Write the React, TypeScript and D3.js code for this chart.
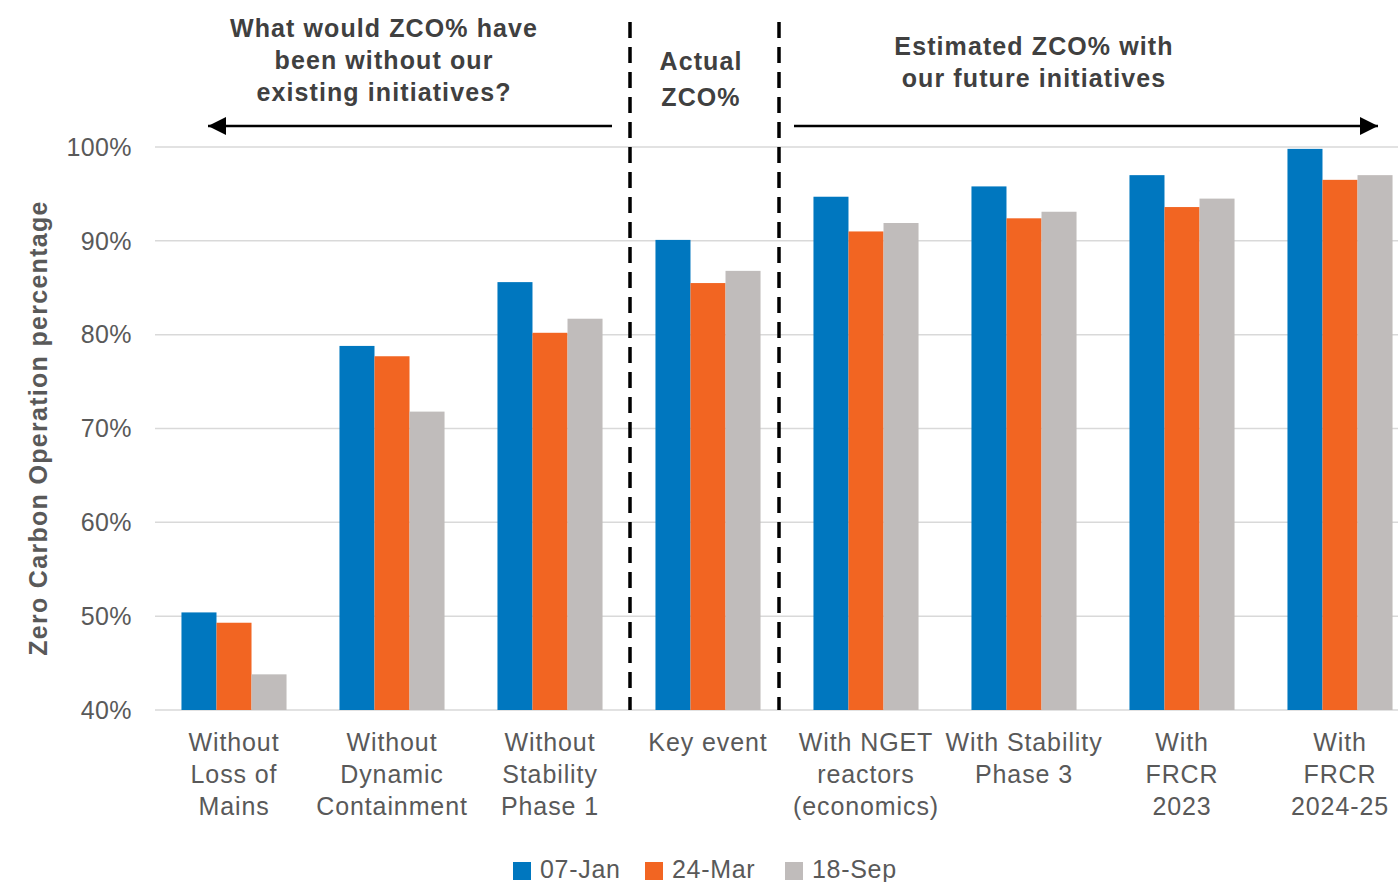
import React from "react";
import * as d3 from "d3";

const categories = [
  ["Without", "Loss of", "Mains"],
  ["Without", "Dynamic", "Containment"],
  ["Without", "Stability", "Phase 1"],
  ["Key event"],
  ["With NGET", "reactors", "(economics)"],
  ["With Stability", "Phase 3"],
  ["With", "FRCR", "2023"],
  ["With", "FRCR", "2024-25"],
];
const seriesNames = ["07-Jan", "24-Mar", "18-Sep"];
const seriesColors = ["#0077BF", "#F26522", "#C0BCBB"];
const jan = [50.4, 78.8, 85.6, 90.1, 94.7, 95.8, 97.0, 99.8];
const mar = [49.3, 77.7, 80.2, 85.5, 91.0, 92.4, 93.6, 96.5];
const sep = [43.8, 71.8, 81.7, 86.8, 91.9, 93.1, 94.5, 97.0];
const yTicks = [40, 50, 60, 70, 80, 90, 100];

const W = 1398;
const H = 882;
const FONT = "'Liberation Sans', Arial, Helvetica, sans-serif";

export default function App() {
  const series = [jan, mar, sep];
  const keys = categories.map((c) => c.join(" "));
  const x0 = d3
    .scaleBand<string>()
    .domain(keys)
    .range([155, 155 + 8 * 158])
    .paddingInner(0.335)
    .paddingOuter(0.1675);
  const x1 = d3
    .scaleBand<number>()
    .domain([0, 1, 2])
    .range([0, x0.bandwidth()]);
  const y = d3.scaleLinear().domain([40, 100]).range([710, 147]);

  const dashX = [630, 779];
  const legendX = [513, 645, 785];

  return (
    <svg
      width={W}
      height={H}
      style={{ position: "absolute", left: 0, top: 0, background: "#fff" }}
      fontFamily={FONT}
    >
      <defs>
        <marker id="ahbig" viewBox="0 0 10 10" refX="10" refY="5" markerWidth="20" markerHeight="18" orient="auto" markerUnits="userSpaceOnUse">
          <path d="M0,0 L10,5 L0,10 Z" fill="#000" />
        </marker>
      </defs>
      {/* gridlines */}
      {yTicks.map((t) => (
        <g key={t}>
          <line x1={155} x2={W} y1={y(t)} y2={y(t)} stroke="#D9D9D9" strokeWidth={1.5} />
          <text x={132} y={y(t)} dy="0.35em" textAnchor="end" fontSize={25} fill="#595959" letterSpacing={0.4}>
            {t}%
          </text>
        </g>
      ))}
      {/* bars */}
      {keys.map((k, i) => (
        <g key={k} transform={`translate(${x0(k)},0)`}>
          {series.map((s, j) => (
            <rect
              key={j}
              x={x1(j)}
              y={y(s[i])}
              width={x1.bandwidth()}
              height={y(40) - y(s[i])}
              fill={seriesColors[j]}
            />
          ))}
        </g>
      ))}
      {/* category labels */}
      {categories.map((c, i) => (
        <text key={i} textAnchor="middle" fontSize={25} fill="#595959" letterSpacing={0.9}>
          {c.map((line, li) => (
            <tspan key={li} x={(x0(keys[i]) as number) + x0.bandwidth() / 2} y={742 + li * 32} dy="0.35em">
              {line}
            </tspan>
          ))}
        </text>
      ))}
      {/* y-axis title */}
      <text
        transform="translate(38,428) rotate(-90)"
        textAnchor="middle"
        dy="0.35em"
        fontSize={25}
        fontWeight="bold"
        fill="#595959"
        letterSpacing={1.3}
      >
        Zero Carbon Operation percentage
      </text>
      {/* dashed separators */}
      {dashX.map((dx) => (
        <line key={dx} x1={dx} x2={dx} y1={22} y2={710} stroke="#000" strokeWidth={3.5} strokeDasharray="16 9" />
      ))}
      {/* arrows */}
      <line x1={612} x2={208} y1={126} y2={126} stroke="#000" strokeWidth={2.5} markerEnd="url(#ahbig)" />
      <line x1={794} x2={1378} y1={126} y2={126} stroke="#000" strokeWidth={2.5} markerEnd="url(#ahbig)" />
      {/* section titles */}
      <g fontSize={25} fontWeight="bold" fill="#404040" textAnchor="middle" letterSpacing={1.1}>
        {["What would ZCO% have", "been without our", "existing initiatives?"].map((t, i) => (
          <text key={t} x={384} y={28 + i * 32} dy="0.35em">{t}</text>
        ))}
        {["Actual", "ZCO%"].map((t, i) => (
          <text key={t} x={701} y={61 + i * 36} dy="0.35em">{t}</text>
        ))}
        {["Estimated ZCO% with", "our future initiatives"].map((t, i) => (
          <text key={t} x={1034} y={46 + i * 32} dy="0.35em">{t}</text>
        ))}
      </g>
      {/* legend */}
      {seriesNames.map((n, j) => (
        <g key={n}>
          <rect x={legendX[j]} y={862} width={18} height={18} fill={seriesColors[j]} />
          <text x={legendX[j] + 27} y={869} dy="0.35em" fontSize={25} fill="#595959" letterSpacing={0.7}>
            {n}
          </text>
        </g>
      ))}
    </svg>
  );
}
